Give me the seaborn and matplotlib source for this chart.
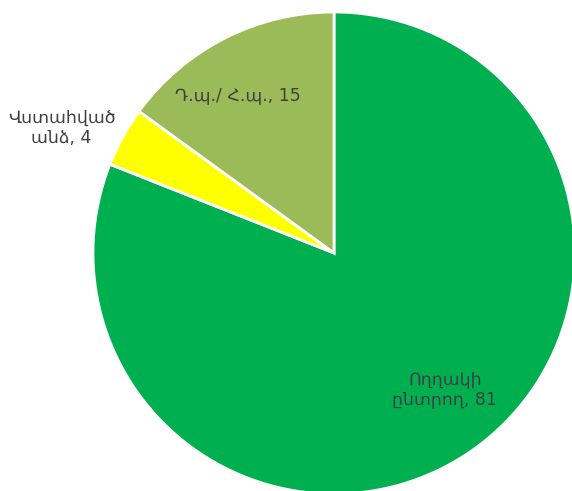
import matplotlib
matplotlib.use("Agg")
import matplotlib.pyplot as plt
import seaborn as sns

sns.set_style("white")
plt.rcParams['font.family'] = ['DejaVu Sans']

# data
categories = ["Ողղակի\nընտրող", "Վստահված\nանձ", "Դ.պ./ Հ.պ."]
values = [81, 4, 15]
colors = ["#00B050", "#FFFF00", "#9BBB59"]

# label positions (in pie radius units)
label_pos = [(0.46, -0.565), (-1.13, 0.52), (-0.40, 0.655)]

fig = plt.figure(figsize=(5.72, 4.91), dpi=100)
ax = fig.add_axes([0, 0, 1, 1])

ax.pie(values, colors=colors, startangle=90, counterclock=False,
       radius=1.0, wedgeprops=dict(edgecolor="white", linewidth=2))

for cat, val, (x, y) in zip(categories, values, label_pos):
    ax.text(x, y, f"{cat}, {val}", ha="center", va="center",
            fontsize=12.5, color="#404040", linespacing=1.15)

# pie centre at (334, 253) px, radius 241 px
r = 241.0
ax.set_xlim(-334 / r, (572 - 334) / r)
ax.set_ylim(-(491 - 253) / r, 253 / r)
ax.set_aspect("auto")
ax.axis("off")

fig.savefig("out.png", dpi=100)
